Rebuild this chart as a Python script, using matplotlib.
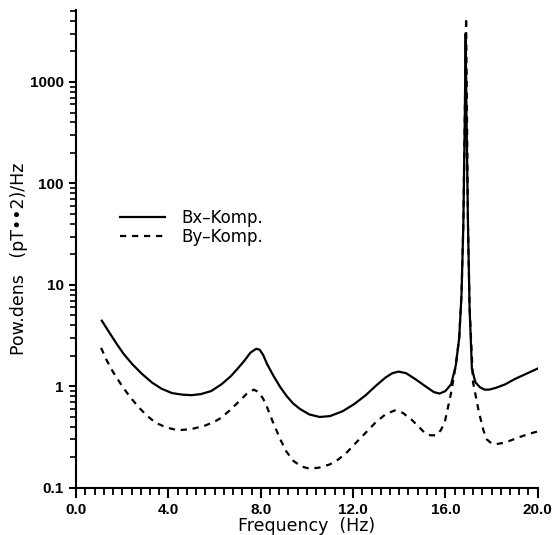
import matplotlib
matplotlib.use("Agg")
import matplotlib.pyplot as plt
from matplotlib.ticker import MultipleLocator, LogLocator, FixedLocator, NullFormatter, FormatStrFormatter

plt.rcParams['font.family'] = ['Liberation Sans', 'DejaVu Sans']

# Bx component (solid)
bx_freq = [1.11, 1.4, 1.72, 2.05, 2.44, 2.85, 3.29, 3.7, 4.15, 4.6, 5.0, 5.4, 5.85,
           6.3, 6.7, 7.0, 7.28, 7.55, 7.8, 7.95, 8.1, 8.28, 8.56, 8.85, 9.13, 9.4,
           9.7, 10.1, 10.55, 11.0, 11.55, 12.05, 12.55, 13.0, 13.4, 13.7, 13.97,
           14.3, 14.7, 15.2, 15.5, 15.75, 16.0, 16.25, 16.45, 16.6, 16.7, 16.78,
           16.84, 16.88, 16.92, 16.98, 17.05, 17.15, 17.3, 17.5, 17.7, 17.9, 18.2,
           18.6, 19.0, 19.5, 20.0]
bx_pow = [4.45, 3.5, 2.7, 2.1, 1.65, 1.33, 1.09, 0.95, 0.86, 0.83, 0.82, 0.84, 0.9,
          1.05, 1.26, 1.5, 1.78, 2.15, 2.35, 2.3, 2.05, 1.65, 1.26, 0.98, 0.8, 0.68,
          0.6, 0.53, 0.5, 0.51, 0.57, 0.67, 0.82, 1.02, 1.22, 1.35, 1.40,
          1.35, 1.18, 0.98, 0.88, 0.85, 0.9, 1.05, 1.6, 3.0, 8.0, 40.0,
          400.0, 3000.0, 400.0, 40.0, 6.0, 1.5, 1.1, 0.98, 0.93, 0.93, 0.97,
          1.05, 1.18, 1.33, 1.5]

# By component (dashed)
by_freq = [1.08, 1.3, 1.58, 2.0, 2.35, 2.72, 3.05, 3.43, 3.9, 4.4, 5.0, 5.57, 6.0,
           6.28, 6.65, 7.0, 7.4, 7.7, 7.9, 8.1, 8.28, 8.5, 8.85, 9.1, 9.41, 9.75,
           10.1, 10.5, 10.98, 11.35, 11.7, 12.0, 12.26, 12.6, 12.97, 13.4, 13.8,
           14.15, 14.54, 14.85, 15.1, 15.35, 15.6, 15.8, 15.97, 16.1, 16.25, 16.45,
           16.6, 16.7, 16.78, 16.84, 16.9, 16.94, 16.98, 17.05, 17.2, 17.46, 17.65,
           17.8, 18.0, 18.2, 18.6, 19.1, 19.6, 20.0]
by_pow = [2.4, 1.85, 1.41, 1.0, 0.78, 0.62, 0.52, 0.44, 0.395, 0.37, 0.38, 0.41, 0.45,
          0.49, 0.58, 0.69, 0.85, 0.93, 0.88, 0.76, 0.62, 0.46, 0.30, 0.23, 0.185, 0.163,
          0.155, 0.158, 0.17, 0.19, 0.22, 0.26, 0.30, 0.36, 0.44, 0.53, 0.58,
          0.55, 0.47, 0.40, 0.35, 0.33, 0.33, 0.37, 0.44, 0.6, 0.87, 1.6,
          3.0, 8.0, 40.0, 400.0, 4300.0, 400.0, 40.0, 6.0, 1.1, 0.55, 0.37,
          0.30, 0.275, 0.27, 0.28, 0.31, 0.34, 0.36]

fig = plt.figure(figsize=(5.52, 5.35), dpi=100)
ax = fig.add_axes([0.138, 0.088, 0.836, 0.893])

ax.plot(bx_freq, bx_pow, color="black", lw=1.6, label="Bx\u2013Komp.")
ax.plot(by_freq, by_pow, color="black", lw=1.6, ls=(0, (2.8, 2.6)), label="By\u2013Komp.")

ax.set_yscale("log")
ax.set_xlim(0, 20)
ax.set_ylim(0.1, 5100)

ax.xaxis.set_major_locator(MultipleLocator(4))
ax.xaxis.set_minor_locator(MultipleLocator(0.4))
ax.xaxis.set_major_formatter(FormatStrFormatter("%.1f"))
ax.yaxis.set_major_locator(FixedLocator([0.1, 1, 10, 100, 1000]))
ax.set_yticklabels(["0.1", "1", "10", "100", "1000"])
ax.yaxis.set_minor_locator(LogLocator(base=10, subs=range(2, 10), numticks=20))
ax.yaxis.set_minor_formatter(NullFormatter())

for s in ["top", "right"]:
    ax.spines[s].set_visible(False)
for s in ["left", "bottom"]:
    ax.spines[s].set_linewidth(1.5)

ax.tick_params(axis="x", which="major", length=7, width=1.5, direction="out")
ax.tick_params(axis="x", which="minor", length=5, width=1.3, direction="out")
ax.tick_params(axis="y", which="major", length=5, width=1.5, direction="out", pad=4)
ax.tick_params(axis="y", which="minor", length=4, width=1.2, direction="out")
for lab in ax.get_xticklabels() + ax.get_yticklabels():
    lab.set_fontweight("bold")
    lab.set_fontsize(11)

lab_font = {"family": ["DejaVu Sans"], "size": 12.5}
ax.set_xlabel("Frequency  (Hz)", fontdict=lab_font, labelpad=0)
ax.set_ylabel("Pow.dens   (pT\u2022\u20222)/Hz", fontdict=lab_font)
ax.yaxis.set_label_coords(-0.104, 0.48)

ax.legend(loc="upper left", bbox_to_anchor=(0.08, 0.598), frameon=False,
          prop={"family": ["DejaVu Sans"], "size": 12},
          handlelength=2.7, handletextpad=1.0, labelspacing=0.05,
          borderaxespad=0)

plt.savefig("out.png", dpi=100)
